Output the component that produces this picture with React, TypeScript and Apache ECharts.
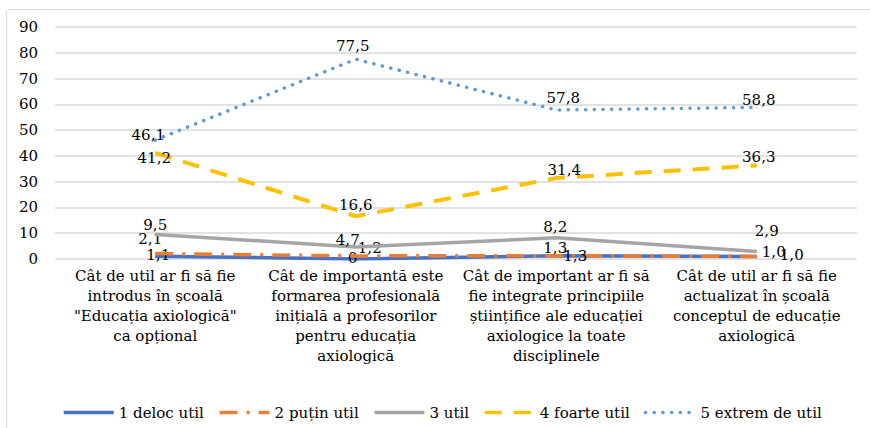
import React, { useEffect, useRef } from 'react';
import * as echarts from 'echarts';

const categories = [
  'Cât de util ar fi să fie\nintrodus în școală\n"Educația axiologică"\nca opțional',
  'Cât de importantă este\nformarea profesională\ninițială a profesorilor\npentru educația\naxiologică',
  'Cât de important ar fi să\nfie integrate principiile\nștiințifice ale educației\naxiologice la toate\ndisciplinele',
  'Cât de util ar fi să fie\nactualizat în școală\nconceptul de educație\naxiologică',
];

const seriesNames = ['1 deloc util', '2 puțin util', '3 util', '4 foarte util', '5 extrem de util'];

const delocUtil = [1.1, 0, 1.3, 1.0];
const putinUtil = [2.1, 1.2, 1.3, 1.0];
const util = [9.5, 4.7, 8.2, 2.9];
const foarteUtil = [41.2, 16.6, 31.4, 36.3];
const extremUtil = [46.1, 77.5, 57.8, 58.8];

const yMin = 0;
const yMax = 90;
const yInterval = 10;

const labelOffsets: number[][][] = [
  [[3, -1], [-3, -1], [-1, -8], [17, -4]],
  [[-5, -15], [14, -8], [19, 0], [35, -1]],
  [[0, -10], [-8, -7], [-1, -11], [10, -21]],
  [[-1, 5], [0, -11], [8, -8], [2, -8]],
  [[-7, -5], [-3, -13], [7, -12], [2, -7]],
];

const lineStyles: any[] = [
  { color: '#4472C4', width: 3.5, type: 'solid' },
  { color: '#ED7D31', width: 3.5, type: [18, 9, 3, 9], cap: 'butt' },
  { color: '#A5A5A5', width: 3.5, type: 'solid' },
  { color: '#FFC000', width: 4, type: [17, 12], cap: 'butt' },
  { color: '#5B9BD5', width: 3.5, type: [0.1, 8.6], cap: 'round' },
];

const FONT = 'DejaVu Serif';
const FS = 15;

const fmt = (v: number) => (v === 0 ? '0' : v.toFixed(1).replace('.', ','));

export default function App() {
  const ref = useRef<HTMLDivElement>(null);
  useEffect(() => {
    const chart = echarts.init(ref.current!, null, { renderer: 'svg' });
    const allData = [delocUtil, putinUtil, util, foarteUtil, extremUtil];
    const series = allData.map((arr, si) => ({
      name: seriesNames[si],
      type: 'line',
      symbol: 'circle',
      symbolSize: 1,
      showSymbol: true,
      z: 2 + si,
      itemStyle: { color: lineStyles[si].color },
      lineStyle: lineStyles[si],
      data: arr.map((v, i) => ({
        value: v,
        label: { offset: labelOffsets[si][i] },
      })),
      label: {
        show: true,
        position: 'inside',
        fontFamily: FONT,
        fontSize: FS,
        color: '#000',
        formatter: (p: any) => fmt(p.value),
      },
    }));
    chart.setOption({
      animation: false,
      backgroundColor: '#fff',
      textStyle: { fontFamily: FONT },
      graphic: [
        {
          type: 'rect',
          shape: { x: 6.5, y: 9.5, width: 900, height: 500, r: 4 },
          style: { fill: 'none', stroke: '#d9d9d9', lineWidth: 1 },
          silent: true,
        },
      ],
      grid: { left: 55, right: 13, top: 27, bottom: 169, containLabel: false },
      legend: {
        left: 57,
        top: 400,
        itemWidth: 50,
        itemHeight: 14,
        itemGap: 14,
        itemStyle: { opacity: 0 },
        lineStyle: { width: 3.5 },
        textStyle: { fontFamily: FONT, fontSize: FS, color: '#000' },
        data: seriesNames,
      },
      xAxis: {
        type: 'category',
        data: categories,
        boundaryGap: true,
        axisLine: { show: false },
        axisTick: { show: false },
        axisLabel: {
          interval: 0,
          margin: 7,
          fontFamily: FONT,
          fontSize: FS,
          lineHeight: 20,
          color: '#000',
        },
      },
      yAxis: {
        type: 'value',
        min: yMin,
        max: yMax,
        interval: yInterval,
        axisLine: { show: false },
        axisTick: { show: false },
        splitLine: { lineStyle: { color: '#d9d9d9', width: 1.5 } },
        axisLabel: { fontFamily: FONT, fontSize: FS, color: '#000', margin: 17 },
      },
      series,
    });
    return () => chart.dispose();
  }, []);
  return (
    <div
      ref={ref}
      style={{ position: 'fixed', left: 0, top: 0, width: 870, height: 428, background: '#fff' }}
    />
  );
}
